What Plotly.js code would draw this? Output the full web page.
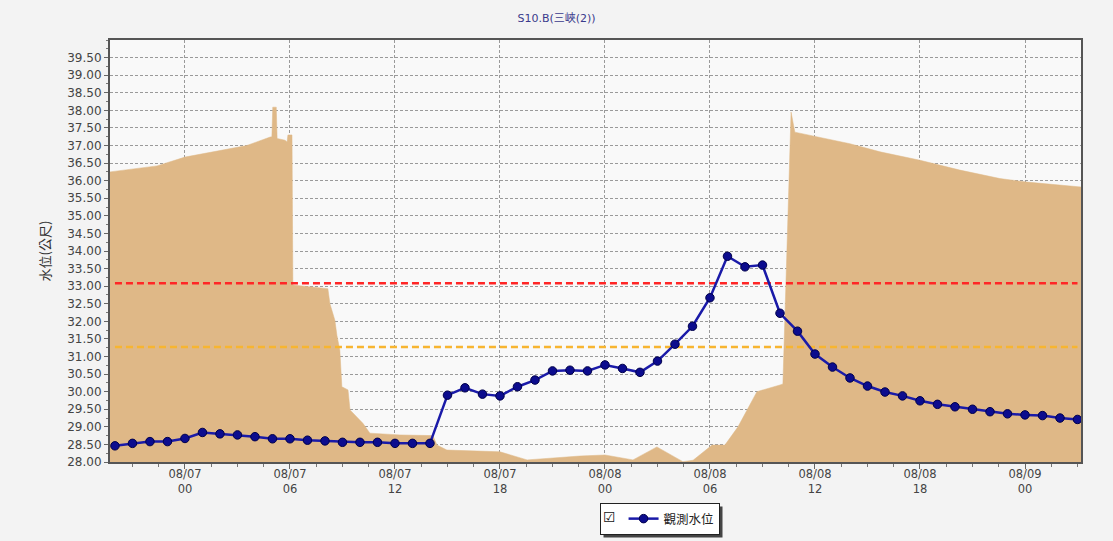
<!DOCTYPE html>
<html>
<head>
<meta charset="utf-8">
<script src="https://cdn.plot.ly/plotly-3.0.1.min.js"></script>
<style>
html,body{margin:0;padding:0;background:#f3f3f3;}
#chart{width:1113px;height:541px;}
</style>
</head>
<body>
<div id="chart"></div>
<script>
// ---- Data ----
const chartTitle = 'S10.B(三峽(2))';
const yTitle = '水位(公尺)';
const legendName = '觀測水位';
const year = '2015-';

// hourly observed water level
const obsTime = [
  '08-06 20:00','08-06 21:00','08-06 22:00','08-06 23:00',
  '08-07 00:00','08-07 01:00','08-07 02:00','08-07 03:00','08-07 04:00','08-07 05:00',
  '08-07 06:00','08-07 07:00','08-07 08:00','08-07 09:00','08-07 10:00','08-07 11:00',
  '08-07 12:00','08-07 13:00','08-07 14:00','08-07 15:00','08-07 16:00','08-07 17:00',
  '08-07 18:00','08-07 19:00','08-07 20:00','08-07 21:00','08-07 22:00','08-07 23:00',
  '08-08 00:00','08-08 01:00','08-08 02:00','08-08 03:00','08-08 04:00','08-08 05:00',
  '08-08 06:00','08-08 07:00','08-08 08:00','08-08 09:00','08-08 10:00','08-08 11:00',
  '08-08 12:00','08-08 13:00','08-08 14:00','08-08 15:00','08-08 16:00','08-08 17:00',
  '08-08 18:00','08-08 19:00','08-08 20:00','08-08 21:00','08-08 22:00','08-08 23:00',
  '08-09 00:00','08-09 01:00','08-09 02:00','08-09 03:00'
];
const obsLevel = [
  28.46,28.53,28.58,28.58,
  28.67,28.84,28.80,28.77,28.72,28.66,
  28.66,28.62,28.60,28.56,28.56,28.56,
  28.53,28.53,28.53,29.90,30.11,29.93,
  29.88,30.14,30.33,30.59,30.61,30.59,
  30.76,30.66,30.55,30.87,31.35,31.86,
  32.67,33.85,33.55,33.60,32.23,31.72,
  31.07,30.70,30.39,30.16,29.99,29.88,
  29.74,29.64,29.57,29.50,29.43,29.37,
  29.34,29.32,29.25,29.21
];

// background (tan) stage series
const bgTime = [
  '08-06 19:43','08-06 22:24','08-07 00:00','08-07 03:32','08-07 04:52','08-07 04:58',
  '08-07 05:01','08-07 05:13','08-07 05:16','08-07 05:43','08-07 05:50','08-07 05:53',
  '08-07 06:07','08-07 06:10','08-07 08:10','08-07 08:17','08-07 08:34','08-07 08:41',
  '08-07 08:51','08-07 08:58','08-07 09:19','08-07 09:26','08-07 10:10','08-07 10:34',
  '08-07 12:17','08-07 14:10','08-07 14:24','08-07 14:58','08-07 18:00','08-07 19:33',
  '08-07 22:34','08-08 00:00','08-08 01:36','08-08 02:58','08-08 04:27','08-08 05:02',
  '08-08 06:07','08-08 06:51','08-08 07:36','08-08 08:10','08-08 08:41','08-08 10:00',
  '08-08 10:10','08-08 10:38','08-08 10:51','08-08 14:00','08-08 15:43','08-08 18:00',
  '08-08 20:17','08-08 22:34','08-09 00:07','08-09 03:12'
];
const bgLevel = [
  36.25,36.42,36.67,37.00,37.24,37.25,
  38.09,38.09,37.20,37.15,37.10,37.30,
  37.30,33.03,32.93,32.50,32.03,31.60,
  31.18,30.14,30.05,29.48,29.10,28.82,
  28.77,28.75,28.48,28.34,28.29,28.06,
  28.17,28.20,28.06,28.43,28.01,28.05,
  28.48,28.48,29.00,29.53,30.00,30.19,
  30.22,37.95,37.38,37.05,36.82,36.58,
  36.30,36.06,35.96,35.82
];

// alert levels
const alertLevel1 = 33.08;
const alertLevel2 = 31.27;

const yTickVals = [28,28.5,29,29.5,30,30.5,31,31.5,32,32.5,33,33.5,34,34.5,35,35.5,36,36.5,37,37.5,38,38.5,39,39.5];

// ---- Chart ----
const obsX = obsTime.map(t => year + t);
const bgX = bgTime.map(t => year + t);
const xFirst = obsX[0], xLast = obsX[obsX.length - 1];

const traces = [
  {
    x: bgX, y: bgLevel, type: 'scatter', mode: 'lines', fill: 'tozeroy',
    fillcolor: '#dfb887', line: {color: '#dfb887', width: 0.5},
    showlegend: false, hoverinfo: 'skip'
  },
  {
    x: [xFirst, xLast], y: [alertLevel1, alertLevel1], type: 'scatter', mode: 'lines',
    line: {color: '#ff2626', width: 2.5, dash: '7px,4px'}, showlegend: false, hoverinfo: 'skip'
  },
  {
    x: [xFirst, xLast], y: [alertLevel2, alertLevel2], type: 'scatter', mode: 'lines',
    line: {color: '#f7b530', width: 2.5, dash: '7px,4px'}, showlegend: false, hoverinfo: 'skip'
  },
  {
    x: obsX, y: obsLevel, type: 'scatter', mode: 'lines+markers', name: legendName,
    line: {color: '#1a1aa8', width: 2.5},
    marker: {color: '#0c0c8e', size: 8.5, line: {color: '#00004a', width: 1}}
  }
];

const layout = {
  width: 1113, height: 541,
  margin: {l: 110, r: 32, t: 40, b: 79, autoexpand: false},
  paper_bgcolor: '#f3f3f3',
  plot_bgcolor: '#f9f9f9',
  font: {family: 'DejaVu Sans, Verdana, sans-serif', size: 11, color: '#444'},
  title: {
    text: chartTitle, xref: 'container', x: 0.5, xanchor: 'center',
    yref: 'container', y: 1 - 18/541, yanchor: 'middle',
    font: {family: 'DejaVu Sans, Noto Sans CJK TC, sans-serif', size: 11, color: '#3a3a8c'}
  },
  xaxis: {
    type: 'date',
    range: [year + '08-06 19:43', year + '08-09 03:12'],
    tick0: year + '08-07 00:00', dtick: 6 * 3600 * 1000,
    tickformat: '%m/%d<br>%H',
    ticks: 'outside', ticklen: 5, tickcolor: '#666',
    ticklabelstandoff: -5,
    tickfont: {family: 'DejaVu Sans, sans-serif', size: 11.5, color: '#444'},
    showgrid: true, gridcolor: '#9a9a9a', griddash: '3px,2px', gridwidth: 1,
    minor: {dtick: 1.5 * 3600 * 1000, ticks: 'outside', ticklen: 3, tickcolor: '#777', showgrid: false},
    showline: true, linecolor: '#555', linewidth: 2, mirror: true,
    zeroline: false, automargin: false, fixedrange: true
  },
  yaxis: {
    range: [28, 40],
    tickvals: yTickVals,
    tickformat: '.2f',
    ticks: 'outside', ticklen: 4, tickcolor: '#666',
    tickfont: {family: 'DejaVu Sans, sans-serif', size: 12, color: '#444'},
    showgrid: true, gridcolor: '#9a9a9a', griddash: '3px,2px', gridwidth: 1,
    minor: {dtick: 0.25, ticks: 'outside', ticklen: 2, tickcolor: '#777', showgrid: false},
    showline: true, linecolor: '#555', linewidth: 2, mirror: true,
    zeroline: false, automargin: false, fixedrange: true,
    title: {text: yTitle, standoff: 14, font: {family: 'Noto Sans CJK TC, sans-serif', size: 13, color: '#333'}}
  },
  showlegend: true,
  legend: {
    orientation: 'h', xref: 'container', yref: 'container',
    x: 660 / 1113, xanchor: 'center', y: 1 - 503 / 541, yanchor: 'top',
    bgcolor: '#ffffff', bordercolor: '#222', borderwidth: 1,
    font: {family: 'Noto Sans CJK TC, sans-serif', size: 12.5, color: '#222'},
    itemwidth: 30, tracegroupgap: 0,
    title: {text: '☑', side: 'left', font: {family: 'DejaVu Sans, sans-serif', size: 14, color: '#111'}}
  }
};

Plotly.newPlot('chart', traces, layout, {displayModeBar: false, staticPlot: true}).then(gd => {
  const bg = gd.querySelector('.legend rect.bg');
  if (!bg) return;
  const r = bg.getBoundingClientRect();
  const c = gd.getBoundingClientRect();
  const fs = gd._fullLayout._size;
  const toX = px => (px - c.left - fs.l) / fs.w;
  const toY = py => (fs.t + fs.h - (py - c.top)) / fs.h;
  Plotly.relayout(gd, {shapes: [{
    type: 'rect', xref: 'paper', yref: 'paper', layer: 'above',
    x0: toX(r.left + 3), x1: toX(r.right + 3), y0: toY(r.bottom + 3), y1: toY(r.top + 3),
    fillcolor: '#444', line: {width: 0}
  }]});
});
</script>
</body>
</html>
